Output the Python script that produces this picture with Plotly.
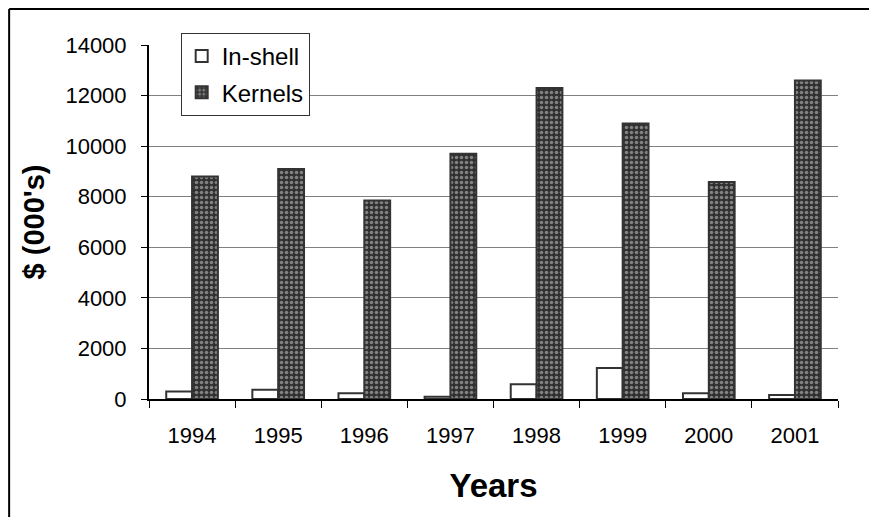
import plotly.graph_objects as go

# DATA
YEARS = ['1994', '1995', '1996', '1997', '1998', '1999', '2000', '2001']
IN_SHELL = [300, 370, 225, 90, 580, 1230, 225, 160]
KERNELS = [8800, 9100, 7850, 9700, 12300, 10900, 8580, 12600]
Y_TICKS = [0, 2000, 4000, 6000, 8000, 10000, 12000, 14000]

FONT = 'Liberation Sans, Arial, sans-serif'

fig = go.Figure()

# In-shell: hollow bars
fig.add_trace(go.Bar(x=YEARS, y=IN_SHELL, name='In-shell', legendgroup='a',
                     marker=dict(color='white', line=dict(color='#333333', width=2))))
# Kernels: dark bars with light dotted pattern
fig.add_trace(go.Bar(x=YEARS, y=KERNELS, name='Kernels', legendgroup='b',
                     marker=dict(color='#333333', line=dict(color='#333333', width=2),
                                 pattern=dict(shape='.', fgcolor='#d4d4d4', bgcolor='#303030',
                                              size=5, solidity=0.4))))

# page body has an 8px margin, so margins are shifted to land the plot in place
fig.update_layout(barmode='group', bargap=0.4, bargroupgap=0,
                  width=877, height=517,
                  margin={'l': 141, 'r': 47, 't': 37, 'b': 126, 'pad': 0},
                  paper_bgcolor='white', plot_bgcolor='white',
                  font=dict(family=FONT, size=22, color='black'))

fig.update_xaxes(showline=True, linecolor='black', linewidth=2,
                 ticks='outside', ticklen=7, tickcolor='black', tickwidth=1,
                 tickson='boundaries', showgrid=False, ticklabelstandoff=16,
                 title=dict(text='<b>Years</b>', font=dict(size=33), standoff=26))
fig.update_yaxes(range=[0, 14000], tickvals=Y_TICKS, tickformat='d',
                 showline=True, linecolor='black', linewidth=2,
                 ticks='outside', ticklen=6, tickcolor='black', ticklabelstandoff=10,
                 showgrid=True, gridcolor='#808080', gridwidth=1, zeroline=False,
                 title=dict(text="<b>$ (000's)</b>", font=dict(size=29), standoff=12))

fig.update_layout(legend=dict(x=0.046, y=1.034, xanchor='left', yanchor='top',
                              bgcolor='white', bordercolor='#333333', borderwidth=1,
                              font=dict(size=24), tracegroupgap=2,
                              itemwidth=30))

# outer chart border (top and left edges visible)
fig.add_shape(type='line', xref='paper', yref='paper', x0=-0.203, x1=1.08, y0=1.1017, y1=1.1017,
              line=dict(color='black', width=2))
fig.add_shape(type='line', xref='paper', yref='paper', x0=-0.203, x1=-0.203, y0=1.1017, y1=-0.36,
              line=dict(color='black', width=2))

fig.write_html("out.html")
